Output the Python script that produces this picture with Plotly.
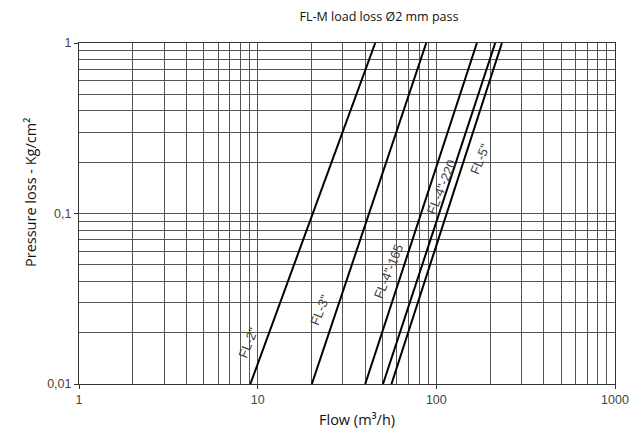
import math
import plotly.graph_objects as go

# Series: flow (m3/h) at pressure 0.01 and 1 kg/cm2 (straight lines on log-log)
series_names = ['FL-2"', 'FL-3"', 'FL-4"-165', 'FL-4"-220', 'FL-5"']
flow_low = [9.1, 20.1, 40.0, 50.3, 56.1]
flow_high = [45.5, 87.8, 168.7, 213.6, 232.9]
pressure_low = 0.01
pressure_high = 1.0

# Label anchor positions (data coords)
label_x = [8.9, 22.4, 54.0, 107.5, 176.0]
label_y = [0.0174, 0.0273, 0.0457, 0.1435, 0.21]

x_tickvals = [1, 10, 100, 1000]
x_ticktext = ["1", "10", "100", "1000"]
y_tickvals = [0.01, 0.1, 1]
y_ticktext = ["0,01", "0,1", "1"]

W, H = 638, 430
ML, MR, MT, MB = 79, 23, 43, 46

fig = go.Figure()
for name, lo, hi in zip(series_names, flow_low, flow_high):
    fig.add_trace(go.Scatter(x=[lo, hi], y=[pressure_low, pressure_high], mode="lines",
                             line=dict(color="black", width=2), name=name, showlegend=False))

for name, lx, ly in zip(series_names, label_x, label_y):
    fig.add_annotation(x=math.log10(lx), y=math.log10(ly), xref="x", yref="y", text=name,
                       showarrow=False, textangle=-68,
                       font=dict(family="Liberation Sans", size=13, color="#444"),
                       xanchor="center", yanchor="middle")

title_font = dict(family="Open Sans", size=14.5, color="#111")
# axis titles placed as paper annotations (pixel positions converted to paper fractions)
pw, ph = W - ML - MR, H - MT - MB
fig.add_annotation(text="Flow (m³/h)", xref="paper", yref="paper",
                   x=(357 - ML) / pw, y=-(420 - (H - MB)) / ph,
                   xanchor="center", yanchor="middle", showarrow=False, font=title_font)
fig.add_annotation(text="Pressure loss - Kg/cm²", xref="paper", yref="paper",
                   x=-(ML - 30) / pw, y=((H - MB) - 193) / ph, textangle=-90,
                   xanchor="center", yanchor="middle", showarrow=False, font=title_font)

grid_color = "#555"
tick_font = dict(family="Liberation Sans", size=12.5, color="#444")
fig.update_layout(
    width=W, height=H,
    margin=dict(l=ML, r=MR, t=MT, b=MB, autoexpand=False),
    paper_bgcolor="white", plot_bgcolor="white",
    title=dict(text="FL-M load loss Ø2 mm pass", x=379/638, xanchor="center", y=1-17/430, yanchor="middle",
               font=dict(family="Open Sans", size=12.5, color="#111")),
    xaxis=dict(type="log", range=[0, 3], tickvals=x_tickvals, ticktext=x_ticktext, automargin=False,
               showgrid=True, gridcolor=grid_color, gridwidth=1,
               minor=dict(dtick="D1", showgrid=True, gridcolor=grid_color, gridwidth=1, ticks=""),
               ticks="outside", ticklen=4, tickcolor="#333",
               showline=True, linecolor="#333", linewidth=1, mirror=True,
               tickfont=tick_font, zeroline=False),
    yaxis=dict(type="log", range=[-2, 0], tickvals=y_tickvals, ticktext=y_ticktext, automargin=False,
               showgrid=True, gridcolor=grid_color, gridwidth=1,
               minor=dict(dtick="D1", showgrid=True, gridcolor=grid_color, gridwidth=1, ticks=""),
               ticks="outside", ticklen=4, tickcolor="#333",
               showline=True, linecolor="#333", linewidth=1, mirror=True,
               tickfont=tick_font, zeroline=False),
)

fig.write_html("out.html", config={"displayModeBar": False},
               post_script="document.body.style.margin='0';")
